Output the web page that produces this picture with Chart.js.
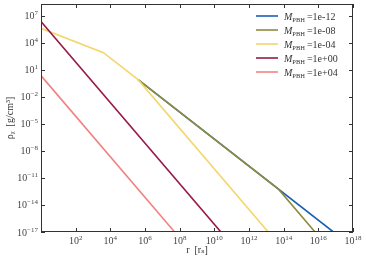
<!DOCTYPE html>
<html>
<head>
<meta charset="utf-8">
<script src="https://cdn.jsdelivr.net/npm/chart.js@4"></script>
<style>
  html, body { margin: 0; padding: 0; background: #fff; }
  canvas { display: block; }
</style>
</head>
<body>
<canvas id="myChart" width="366" height="260"></canvas>
<script>
// masses (legend labels) and colours
const masses = ['1e-12', '1e-08', '1e-04', '1e+00', '1e+04'];
const colors = ['#1c5fb3', '#8d8c3c', '#f3d66c', '#97184a', '#f08484'];

// profiles as log10(r) / log10(rho) pairs
// (the two lightest masses run hidden under the 1e-04 curve below r ~ 10^5.6)
const logR_m12 = [5.6, 16.87];
const logRho_m12 = [-0.1, -17];
const logR_m08 = [5.6, 13.7, 15.81];
const logRho_m08 = [-0.1, -12.25, -17];
const logR_m04 = [0, 3.6, 5.6, 13.11];
const logRho_m04 = [5.6, 2.9, -0.1, -17];
const logR_p00 = [0, 10.38];
const logRho_p00 = [6.35, -17];
const logR_p04 = [0, 7.71];
const logRho_p04 = [0.35, -17];

const xTicks = [2, 4, 6, 8, 10, 12, 14, 16, 18];
const yTicks = [-17, -14, -11, -8, -5, -2, 1, 4, 7];

function pts(lx, ly) {
    return lx.map((v, i) => ({ x: Math.pow(10, v), y: Math.pow(10, ly[i]) }));
}

const series = [
    pts(logR_m12, logRho_m12),
    pts(logR_m08, logRho_m08),
    pts(logR_m04, logRho_m04),
    pts(logR_p00, logRho_p00),
    pts(logR_p04, logRho_p04)
];

const FONT = "'Liberation Serif', 'DejaVu Serif', serif";

// matplotlib-like mathtext: 10 with raised exponent
function drawPow(ctx, exp, x, y, align) {
    const base = '10';
    const e = String(exp).replace('-', '−');
    ctx.font = '10px ' + FONT;
    const wb = ctx.measureText(base).width;
    ctx.font = '7px ' + FONT;
    const we = ctx.measureText(e).width;
    let x0 = x;
    if (align === 'right') x0 = x - wb - we;
    if (align === 'center') x0 = x - (wb + we) / 2;
    ctx.textAlign = 'left';
    ctx.textBaseline = 'alphabetic';
    ctx.font = '10px ' + FONT;
    ctx.fillText(base, x0, y);
    ctx.font = '7px ' + FONT;
    ctx.fillText(e, x0 + wb, y - 4);
}

const framePlugin = {
    id: 'frame',
    afterDraw(chart) {
        const ctx = chart.ctx;
        const a = chart.chartArea;
        const xs = chart.scales.x, ys = chart.scales.y;
        ctx.save();
        ctx.strokeStyle = '#333';
        ctx.lineWidth = 1;
        ctx.strokeRect(a.left + 0.5, a.top + 0.5, a.right - a.left - 1, a.bottom - a.top - 1);
        ctx.beginPath();
        xTicks.forEach(t => {
            const px = Math.round(xs.getPixelForValue(Math.pow(10, t))) + 0.5;
            ctx.moveTo(px, a.bottom); ctx.lineTo(px, a.bottom - 4);
            ctx.moveTo(px, a.top); ctx.lineTo(px, a.top + 4);
        });
        yTicks.forEach(t => {
            const py = Math.round(ys.getPixelForValue(Math.pow(10, t))) + 0.5;
            ctx.moveTo(a.left, py); ctx.lineTo(a.left + 4, py);
            ctx.moveTo(a.right, py); ctx.lineTo(a.right - 4, py);
        });
        ctx.stroke();

        // tick labels
        ctx.fillStyle = '#444';
        xTicks.forEach(t => {
            const px = xs.getPixelForValue(Math.pow(10, t));
            drawPow(ctx, t, px, a.bottom + 12, 'center');
        });
        yTicks.forEach(t => {
            const py = ys.getPixelForValue(Math.pow(10, t));
            drawPow(ctx, t, a.left - 3, py + 3.5, 'right');
        });

        // axis titles
        ctx.fillStyle = '#333';
        ctx.font = '10px ' + FONT;
        ctx.textAlign = 'center';
        ctx.textBaseline = 'alphabetic';
        ctx.fillText('r  [r\u209B]', (a.left + a.right) / 2, 253);
        ctx.save();
        ctx.translate(13, (a.top + a.bottom) / 2);
        ctx.rotate(-Math.PI / 2);
        ctx.fillText('\u03C1\u1D6A  [g/cm\u00B3]', 0, 0);
        ctx.restore();

        // legend
        chart.data.datasets.forEach((ds, i) => {
            const y = 16 + i * 14;
            ctx.strokeStyle = ds.borderColor;
            ctx.lineWidth = 1.6;
            ctx.beginPath();
            ctx.moveTo(256, y); ctx.lineTo(278, y);
            ctx.stroke();
            ctx.fillStyle = '#333';
            ctx.textAlign = 'left';
            ctx.font = 'italic 10px ' + FONT;
            let x = 284;
            ctx.fillText('M', x, y + 3.5);
            x += ctx.measureText('M').width;
            ctx.font = '6.5px ' + FONT;
            ctx.fillText('PBH', x, y + 5.5);
            x += ctx.measureText('PBH').width + 2;
            ctx.font = '10px ' + FONT;
            ctx.fillText('=' + masses[i], x, y + 3.5);
        });
        ctx.restore();
    }
};

const ctx = document.getElementById('myChart');

const chart = new Chart(ctx, {
    type: 'line',
    data: {
        datasets: series.map((d, i) => ({
            label: 'M_PBH =' + masses[i],
            data: d,
            order: masses.length - i, // later series drawn on top
            borderColor: colors[i],
            backgroundColor: colors[i],
            borderWidth: 1.6,
            pointRadius: 0,
            fill: false,
            tension: 0
        }))
    },
    options: {
        responsive: false,
        animation: false,
        devicePixelRatio: 1,
        layout: { padding: { left: 0, right: 13, top: 4, bottom: 0 } },
        plugins: {
            legend: { display: false },
            tooltip: { enabled: false }
        },
        scales: {
            x: {
                type: 'logarithmic',
                min: 1,
                max: 1e18,
                grid: { display: false, drawTicks: false },
                border: { display: false },
                ticks: { display: false },
                afterFit: (s) => { s.height = 28; }
            },
            y: {
                type: 'logarithmic',
                min: 1e-17,
                max: Math.pow(10, 8.3),
                grid: { display: false, drawTicks: false },
                border: { display: false },
                ticks: { display: false },
                afterFit: (s) => { s.width = 41; }
            }
        }
    },
    plugins: [framePlugin]
});
</script>
</body>
</html>
